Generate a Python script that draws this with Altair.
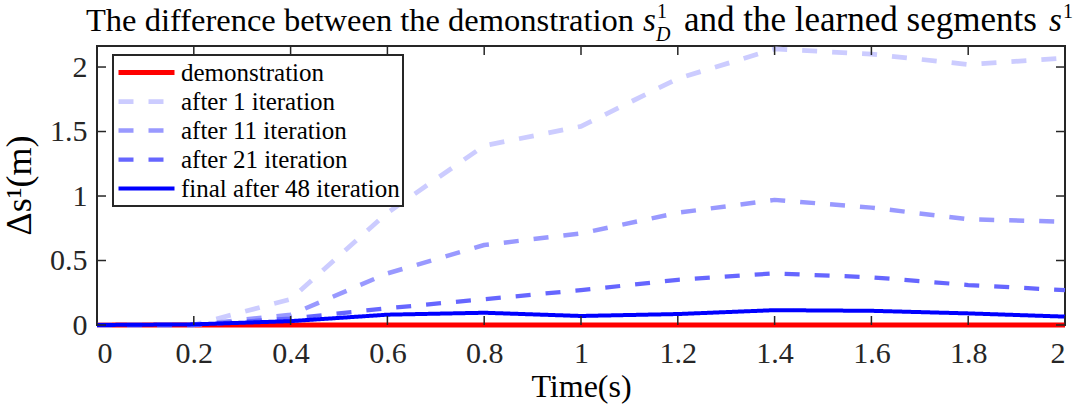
import altair as alt
import pandas as pd

# Sample times (s)
time_s = [0.0, 0.2, 0.4, 0.6, 0.8, 1.0, 1.2, 1.4, 1.6, 1.8, 2.0]

# Delta s^1 (m) for each curve
demonstration = [0, 0, 0, 0, 0, 0, 0, 0, 0, 0, 0]
after_1 = [0, 0, 0.20, 0.87, 1.39, 1.54, 1.91, 2.14, 2.10, 2.02, 2.07]
after_11 = [0, 0, 0.08, 0.40, 0.62, 0.71, 0.87, 0.97, 0.91, 0.82, 0.80]
after_21 = [0, 0, 0.05, 0.13, 0.20, 0.27, 0.35, 0.40, 0.37, 0.31, 0.27]
final_48 = [0, 0.005, 0.03, 0.08, 0.095, 0.07, 0.085, 0.115, 0.11, 0.09, 0.065]

series_names = [
    "demonstration",
    "after 1 iteration",
    "after 11 iteration",
    "after 21 iteration",
    "final after 48 iteration",
]
series_values = [demonstration, after_1, after_11, after_21, final_48]
series_colors = ["#ff0000", "#ccccff", "#9999ff", "#6666ff", "#0000ff"]
series_dash = [[1, 0], [15, 15], [15, 15], [15, 15], [1, 0]]
series_width = [5, 4, 4, 4, 5]

x_ticks = [0, 0.2, 0.4, 0.6, 0.8, 1.0, 1.2, 1.4, 1.6, 1.8, 2.0]
y_ticks = [0, 0.5, 1, 1.5, 2]
x_domain = [0, 2]
y_domain = [0, 2.163]

W, H = 968, 279
SERIF = "Liberation Serif"
AXIS_GRAY = "#262626"

rows = []
for name, vals in zip(series_names, series_values):
    for t, v in zip(time_s, vals):
        rows.append({"time": t, "ds": v, "series": name})
df = pd.DataFrame(rows)

xscale = alt.Scale(domain=x_domain, nice=False, zero=False)
yscale = alt.Scale(domain=y_domain, nice=False, zero=False)

x_axis = alt.Axis(
    values=x_ticks,
    format=".1~f",
    title="Time(s)",
    labelFont=SERIF,
    labelFontSize=30,
    labelBaseline="alphabetic",
    labelPadding=37,
    titleFont=SERIF,
    titleFontSize=32,
    titleX=484,
    titleY=71,
    titleBaseline="alphabetic",
    titleAnchor="start",
    titleAlign="center",
)
y_axis = alt.Axis(
    values=y_ticks,
    format=".1~f",
    title="Δs¹(m)",
    labelFont=SERIF,
    labelFontSize=30,
    labelPadding=10,
    titleFont=SERIF,
    titleFontSize=36,
    titleX=-67,
    titleY=139,
    titleBaseline="alphabetic",
    titleAlign="center",
    titleAngle=270,
)

lines = alt.Chart(df).mark_line(strokeCap="butt", strokeJoin="round").encode(
    x=alt.X("time:Q", scale=xscale, axis=x_axis),
    y=alt.Y("ds:Q", scale=yscale, axis=y_axis),
    color=alt.Color(
        "series:N",
        scale=alt.Scale(domain=series_names, range=series_colors),
        legend=alt.Legend(
            title=None,
            orient="none",
            legendX=16,
            legendY=9,
            symbolType="stroke",
            symbolSize=3136,
            clipHeight=29,
            labelFont=SERIF,
            labelFontSize=25,
            labelColor="#000000",
            labelOffset=4,
            labelLimit=400,
            padding=3,
            rowPadding=0,
            fillColor="#ffffff",
            strokeColor=AXIS_GRAY,
        ),
    ),
    strokeDash=alt.StrokeDash(
        "series:N", scale=alt.Scale(domain=series_names, range=series_dash)
    ),
    strokeWidth=alt.StrokeWidth(
        "series:N", scale=alt.Scale(domain=series_names, range=series_width)
    ),
)

# Inward-pointing ticks on all four sides of the box
xt = pd.DataFrame({"time": x_ticks})
yt = pd.DataFrame({"ds": y_ticks})
tick_style = dict(color=AXIS_GRAY, strokeWidth=1.5)
TL = 9
x_bottom = alt.Chart(xt).mark_rule(**tick_style).encode(
    x=alt.X("time:Q", scale=xscale, axis=x_axis), y=alt.value(H), y2=alt.value(H - TL)
)
x_top = alt.Chart(xt).mark_rule(**tick_style).encode(
    x=alt.X("time:Q", scale=xscale, axis=x_axis), y=alt.value(0), y2=alt.value(TL)
)
y_left = alt.Chart(yt).mark_rule(**tick_style).encode(
    y=alt.Y("ds:Q", scale=yscale, axis=y_axis), x=alt.value(0), x2=alt.value(TL)
)
y_right = alt.Chart(yt).mark_rule(**tick_style).encode(
    y=alt.Y("ds:Q", scale=yscale, axis=y_axis), x=alt.value(W), x2=alt.value(W - TL)
)

# Title pieces: plain text, italic symbols, super/subscripts
title_parts = [
    ("The difference between the demonstration", -11, -15, 32.5, "normal"),
    ("s", 546, -15, 33, "italic"),
    ("1", 560, -28, 20, "normal"),
    ("D", 559, -5, 20, "italic"),
    ("and the learned segments", 587, -15, 35, "normal"),
    ("s", 952, -15, 33, "italic"),
    ("1", 966, -28, 20, "normal"),
]
one = pd.DataFrame({"k": [0]})
title_layers = [
    alt.Chart(one)
    .mark_text(
        align="left",
        baseline="alphabetic",
        font=SERIF,
        fontSize=fs,
        fontStyle=style,
        color="#000000",
    )
    .encode(x=alt.value(x), y=alt.value(y), text=alt.value(txt))
    for txt, x, y, fs, style in title_parts
]

chart = (
    alt.layer(lines, x_bottom, x_top, y_left, y_right, *title_layers)
    .properties(
        width=W,
        height=H,
        autosize=alt.AutoSizeParams(type="none"),
        padding={"left": 97, "top": 46, "right": 13, "bottom": 82},
        background="#ffffff",
    )
    .configure(font=SERIF)
    .configure_view(stroke=AXIS_GRAY, strokeWidth=2)
    .configure_axis(
        labelFont=SERIF,
        labelFontSize=30,
        labelColor=AXIS_GRAY,
        titleFont=SERIF,
        titleFontWeight="normal",
        titleColor="#000000",
        grid=False,
        domain=False,
        ticks=False,
        tickSize=0,
    )
    .configure_legend(strokeWidth=2, labelFont=SERIF)
)

chart.save("out.html", embed_options={"renderer": "svg", "actions": False})
